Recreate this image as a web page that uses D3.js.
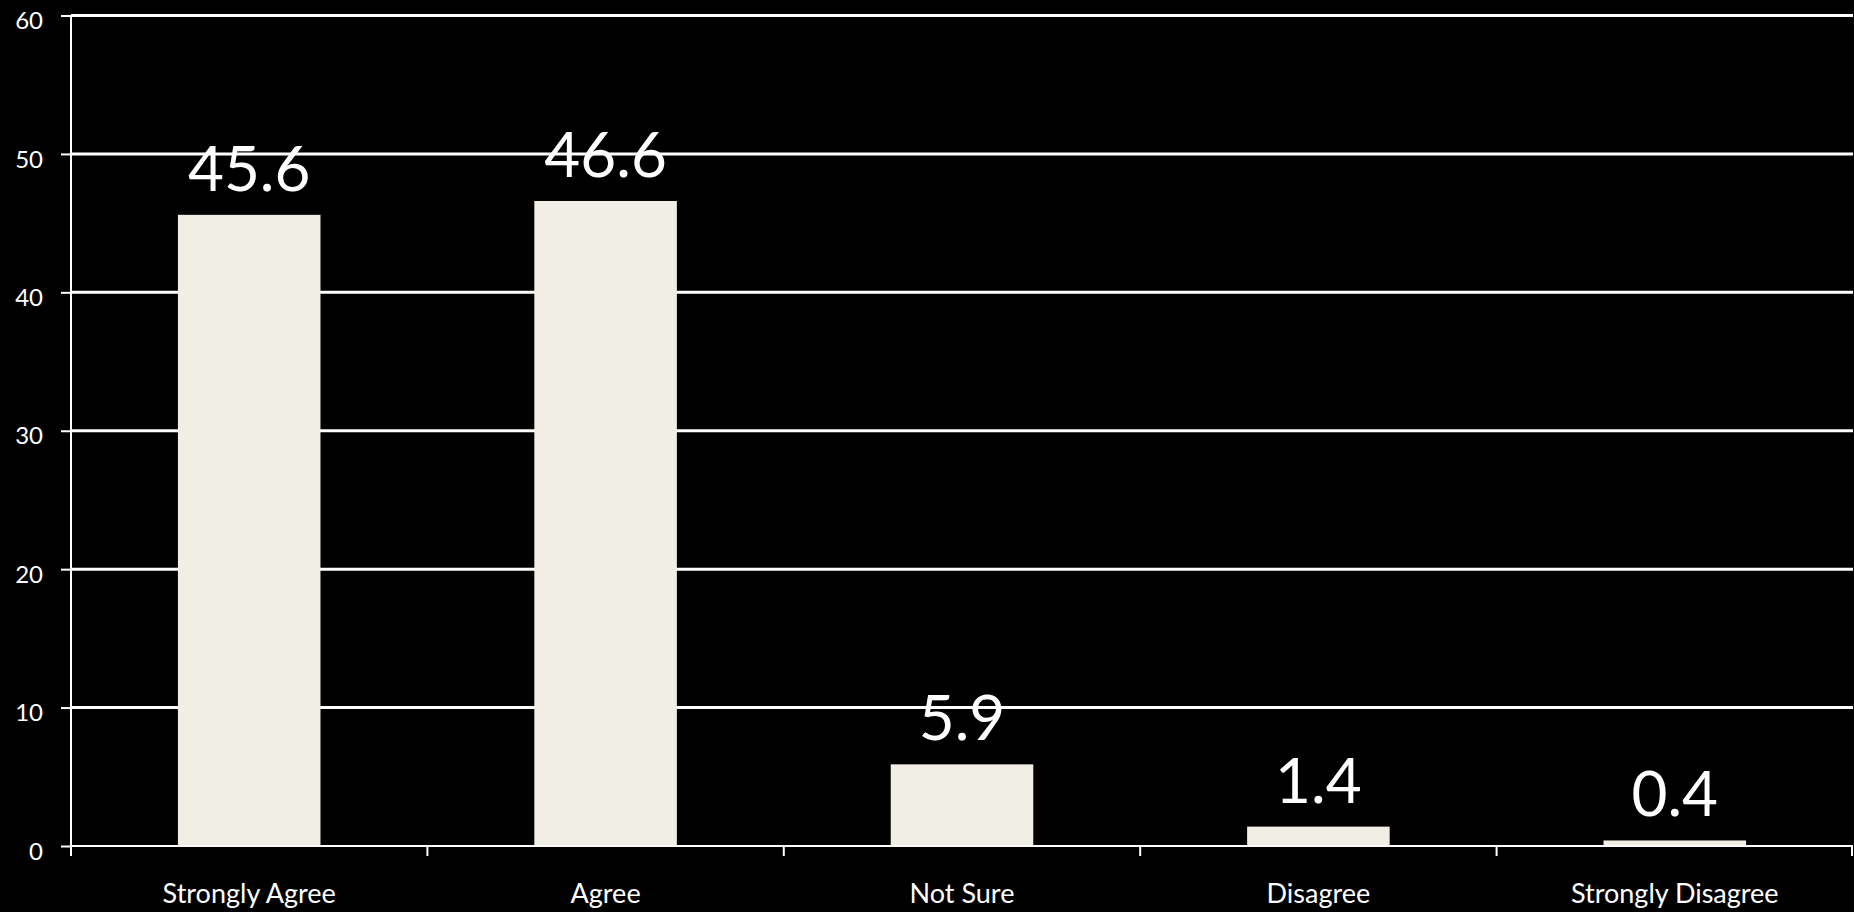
<!DOCTYPE html>
<html>
<head>
<meta charset="utf-8">
<script src="https://cdn.jsdelivr.net/npm/d3@7"></script>
<style>
  html, body { margin: 0; padding: 0; background: #000; }
  svg { display: block; }
  text { font-family: Lato, "Open Sans", sans-serif; fill: #fff; }
</style>
</head>
<body>
<div id="chart"></div>
<script>
// survey answers, percent
var categories = ['Strongly Agree', 'Agree', 'Not Sure', 'Disagree', 'Strongly Disagree'];
var values = [45.6, 46.6, 5.9, 1.4, 0.4];
var yTicks = [0, 10, 20, 30, 40, 50, 60];

var width = 1854, height = 912;
var margin = {top: 15.5, right: 1, bottom: 66, left: 71};

var svg = d3.select('#chart').append('svg')
  .attr('width', width)
  .attr('height', height);

var x = d3.scaleBand()
  .domain(categories)
  .range([margin.left, width - margin.right])
  .paddingInner(0.6)
  .paddingOuter(0.3);

var y = d3.scaleLinear()
  .domain([0, 60])
  .range([height - margin.bottom, margin.top]);

// gridlines + y labels
var yAxis = svg.append('g')
  .attr('transform', 'translate(' + margin.left + ',0)')
  .call(d3.axisLeft(y).tickValues(yTicks).tickSize(10).tickPadding(18)
    .tickFormat(d3.format('d')));
yAxis.select('.domain').remove();
yAxis.selectAll('.tick line').attr('stroke', '#fff').attr('stroke-width', 2);
yAxis.selectAll('.tick text')
  .attr('font-size', 24)
  .attr('dy', '0.55em')
  .style('fill', '#fff');

svg.append('g')
  .selectAll('line')
  .data(yTicks.filter((d) => d > 0))
  .join('line')
  .attr('x1', margin.left)
  .attr('x2', width - margin.right)
  .attr('y1', (d) => y(d))
  .attr('y2', (d) => y(d))
  .attr('stroke', '#fff')
  .attr('stroke-width', 3);

// y axis line
svg.append('line')
  .attr('x1', margin.left).attr('x2', margin.left)
  .attr('y1', y(60)).attr('y2', y(0))
  .attr('stroke', '#fff').attr('stroke-width', 2);

// bars
svg.append('g')
  .selectAll('rect')
  .data(values)
  .join('rect')
  .attr('x', (d, i) => x(categories[i]))
  .attr('width', x.bandwidth())
  .attr('y', (d) => y(d))
  .attr('height', (d) => y(0) - y(d))
  .attr('fill', '#f1eee6');

// x axis: band boundary ticks
var step = x.step();
var bounds = d3.range(categories.length + 1).map((i) => margin.left + i * step);
svg.append('line')
  .attr('x1', margin.left).attr('x2', width - margin.right)
  .attr('y1', y(0)).attr('y2', y(0))
  .attr('stroke', '#fff').attr('stroke-width', 2);
svg.append('g')
  .selectAll('line')
  .data(bounds)
  .join('line')
  .attr('x1', (d) => Math.min(d, width - 2))
  .attr('x2', (d) => Math.min(d, width - 2))
  .attr('y1', y(0))
  .attr('y2', y(0) + 10)
  .attr('stroke', '#fff')
  .attr('stroke-width', 2);

svg.append('g')
  .selectAll('text')
  .data(categories)
  .join('text')
  .attr('x', (d) => x(d) + x.bandwidth() / 2)
  .attr('y', 903)
  .attr('text-anchor', 'middle')
  .attr('font-size', 27)
  .text((d) => d);

// value labels
svg.append('g')
  .selectAll('text')
  .data(values)
  .join('text')
  .attr('x', (d, i) => x(categories[i]) + x.bandwidth() / 2)
  .attr('y', (d) => y(d) - 24)
  .attr('text-anchor', 'middle')
  .attr('font-size', 62)
  .text((d) => d.toFixed(1));
</script>
</body>
</html>
